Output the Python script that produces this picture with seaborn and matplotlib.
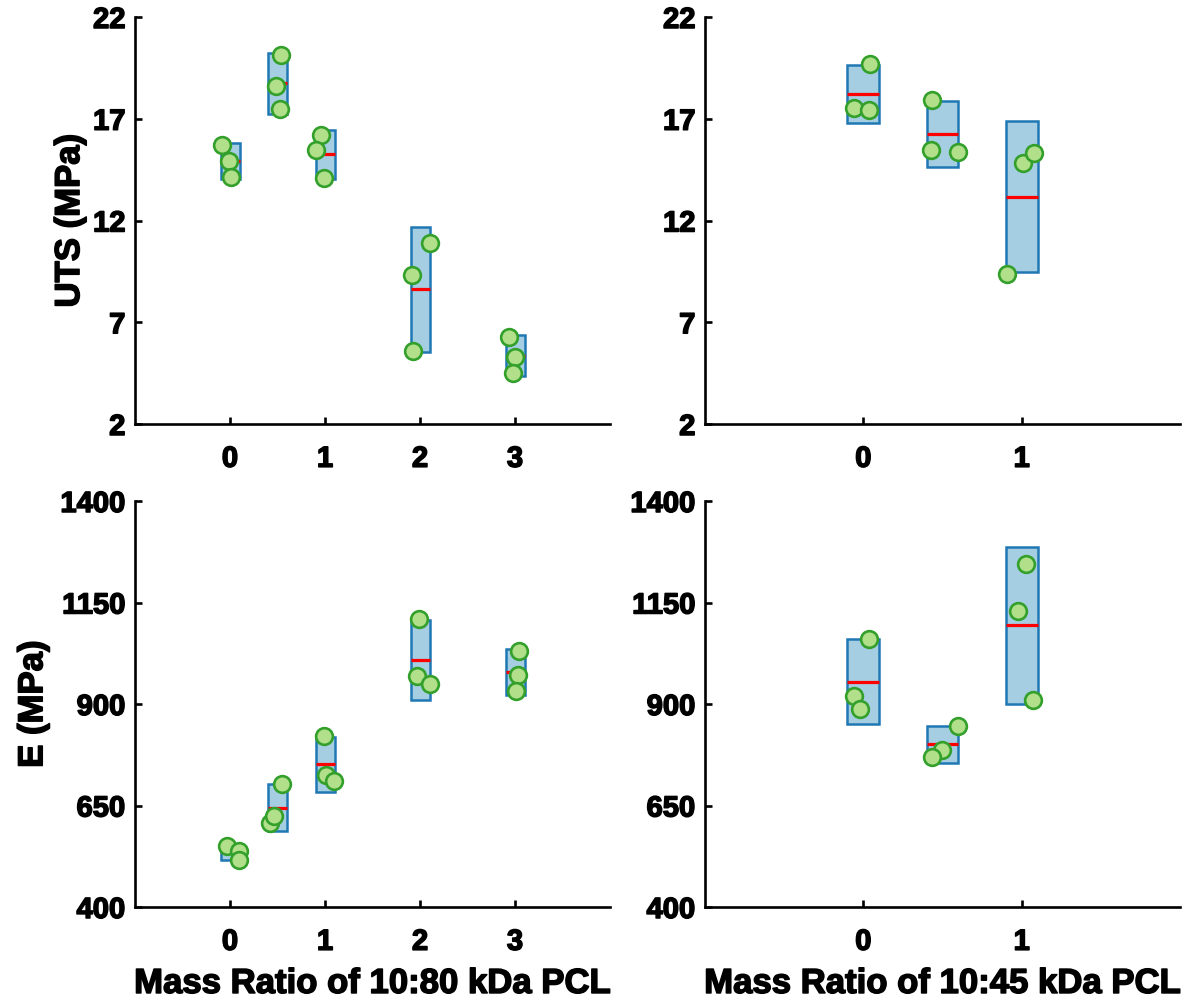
import numpy as np
import pandas as pd
import matplotlib
matplotlib.use("Agg")
import matplotlib.pyplot as plt
import matplotlib.patheffects as pe
import seaborn as sns

# ---------------- data ----------------
pos_80 = [0, 0.5, 1, 2, 3]
pos_45 = [0, 0.5, 1]
xticks_80 = [0, 1, 2, 3]
xticks_45 = [0, 1]

uts_80 = [[15.71, 14.92, 14.14],
          [20.15, 18.59, 17.50],
          [16.20, 15.48, 14.09],
          [10.89, 9.34, 5.60],
          [6.26, 5.31, 4.52]]
uts_80_jit = [[-0.087, -0.010, 0.010],
              [0.038, -0.014, 0.030],
              [-0.038, -0.090, -0.007],
              [0.100, -0.080, -0.070],
              [-0.060, 0.000, -0.024]]

uts_45 = [[19.69, 17.53, 17.43],
          [17.92, 15.48, 15.37],
          [9.39, 14.83, 15.30]]
uts_45_jit = [[0.042, -0.060, 0.037],
              [-0.065, -0.073, 0.100],
              [-0.092, 0.008, 0.075]]

e_80 = [[549.3, 537.0, 516.5],
        [702.0, 606.9, 624.9],
        [820.2, 725.9, 709.4],
        [1109.4, 968.0, 949.3],
        [1031.3, 970.5, 932.8]]
e_80_jit = [[-0.028, 0.097, 0.090],
            [0.049, -0.083, -0.040],
            [-0.010, 0.014, 0.094],
            [-0.014, -0.035, 0.100],
            [0.042, 0.035, 0.007]]

e_45 = [[1060.8, 918.7, 886.7],
        [844.8, 787.5, 768.5],
        [1244.8, 1129.1, 908.9]]
e_45_jit = [[0.037, -0.060, -0.023],
            [0.096, -0.006, -0.067],
            [0.027, -0.025, 0.069]]

uts_ticks = [2, 7, 12, 17, 22]
e_ticks = [400, 650, 900, 1150, 1400]

# ---------------- style ----------------
BOX_FACE = "#A6CEE3"
BOX_EDGE = "#1F78B4"
PT_FACE = "#B2DF8A"
PT_EDGE = "#33A02C"
MEAN_C = "#FF0000"

sns.set_theme(style="ticks")
plt.rcParams["font.family"] = ["Liberation Sans", "DejaVu Sans"]
plt.rcParams["font.weight"] = "bold"
plt.rcParams["axes.labelweight"] = "bold"

W, H = 1186, 1003
fig = plt.figure(figsize=(W / 100, H / 100), dpi=100)


def axpos(l, r, t, b):
    return [l / W, 1 - b / H, (r - l) / W, (b - t) / H]


stroke = [pe.withStroke(linewidth=1.1, foreground="black")]


def panel(ax, pos, vals, jit, ylim, yticks, xlim, xticks, width=0.2):
    means = [float(np.mean(v)) for v in vals]
    ci = [1.96 * float(np.std(v, ddof=1)) / np.sqrt(len(v)) for v in vals]
    lows = [m - c for m, c in zip(means, ci)]
    ax.bar(pos, [2 * c for c in ci], bottom=lows, width=width,
           color=BOX_FACE, edgecolor=BOX_EDGE, linewidth=1.8, zorder=2)
    ax.hlines(means, [p - width / 2 for p in pos], [p + width / 2 for p in pos],
              colors=MEAN_C, linewidth=2.3, zorder=3)
    df = pd.DataFrame({
        "x": [p + j for p, js in zip(pos, jit) for j in js],
        "y": [y for v in vals for y in v],
    })
    sns.scatterplot(data=df, x="x", y="y", ax=ax, s=145, color=PT_FACE,
                    edgecolor=PT_EDGE, linewidth=1.9, zorder=4, legend=False)
    ax.set_xlim(*xlim)
    ax.set_ylim(*ylim)
    ax.set_xticks(xticks)
    ax.set_xticklabels([str(t) for t in xticks])
    ax.set_yticks(yticks)
    ax.set_yticklabels([str(t) for t in yticks])
    ax.set_xlabel("")
    ax.set_ylabel("")
    for s in ["top", "right"]:
        ax.spines[s].set_visible(False)
    for s in ["left", "bottom"]:
        ax.spines[s].set_linewidth(1.9)
        ax.spines[s].set_color("black")
    ax.tick_params(axis="both", direction="in", length=5, width=1.9,
                   labelsize=21, colors="black")
    ax.tick_params(axis="x", pad=15)
    ax.tick_params(axis="y", pad=7)
    for lab in ax.get_xticklabels() + ax.get_yticklabels():
        lab.set_fontweight("bold")
        lab.set_path_effects(stroke)


ax1 = fig.add_axes(axpos(135, 610, 18, 425))
ax2 = fig.add_axes(axpos(705, 1180, 18, 425))
ax3 = fig.add_axes(axpos(135, 610, 502, 908))
ax4 = fig.add_axes(axpos(705, 1180, 502, 908))

panel(ax1, pos_80, uts_80, uts_80_jit, (2, 22), uts_ticks, (-1, 4), xticks_80)
panel(ax2, pos_45, uts_45, uts_45_jit, (2, 22), uts_ticks, (-1, 2), xticks_45)
panel(ax3, pos_80, e_80, e_80_jit, (400, 1400), e_ticks, (-1, 4), xticks_80)
panel(ax4, pos_45, e_45, e_45_jit, (400, 1400), e_ticks, (-1, 2), xticks_45)

lab_kw = dict(fontsize=25, fontweight="bold", color="black")
ax1.set_ylabel("UTS (MPa)", labelpad=5, **lab_kw)
ax3.set_ylabel("E (MPa)", labelpad=8, **lab_kw)
ax3.set_xlabel("Mass Ratio of 10:80 kDa PCL", labelpad=8, **lab_kw)
ax4.set_xlabel("Mass Ratio of 10:45 kDa PCL", labelpad=8, **lab_kw)
for a in (ax1, ax3):
    a.yaxis.label.set_path_effects(stroke)
for a in (ax3, ax4):
    a.xaxis.label.set_path_effects(stroke)

fig.savefig("out.png", dpi=100)
